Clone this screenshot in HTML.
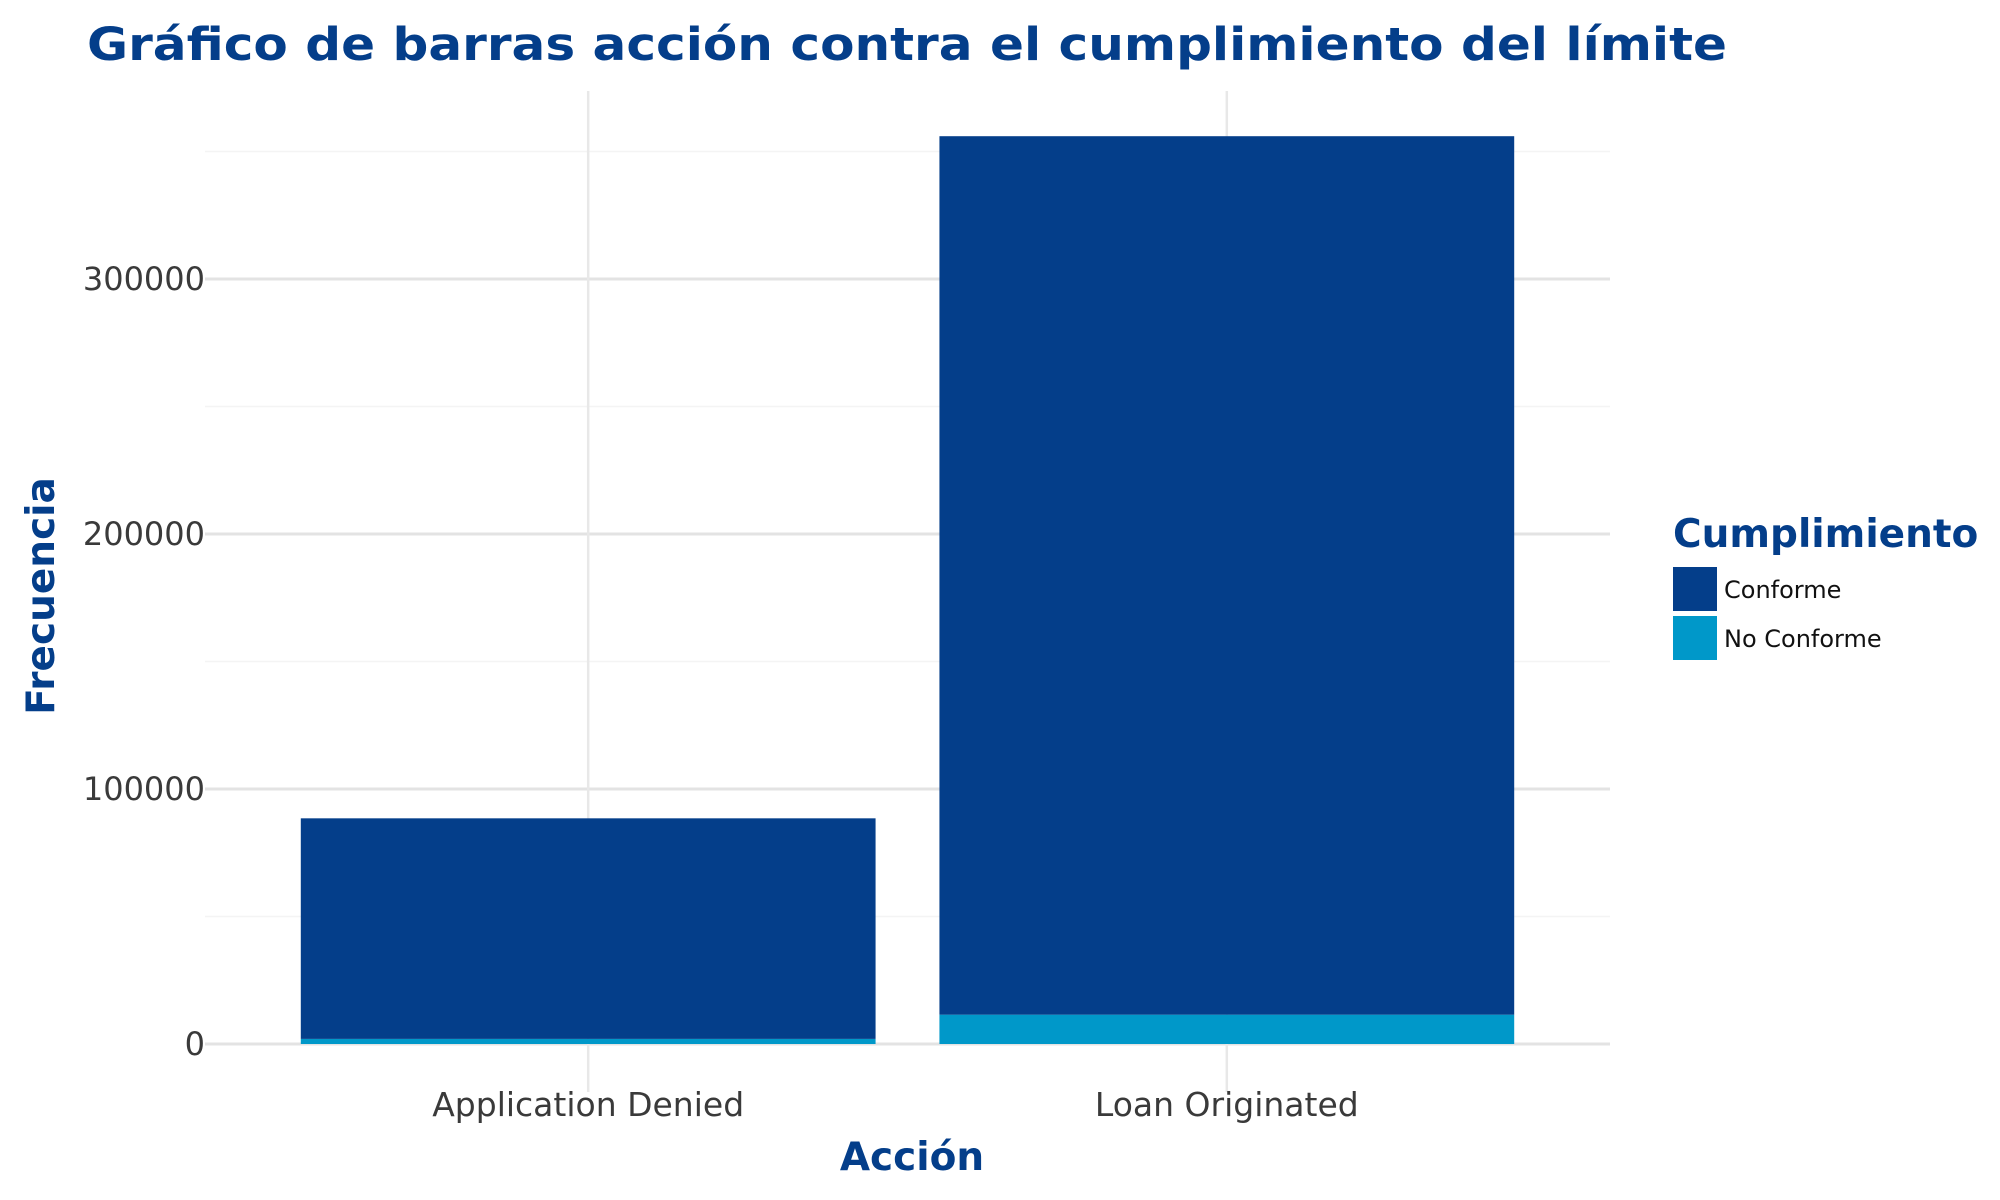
<!DOCTYPE html>
<html><head><meta charset="utf-8"><style>
html,body{margin:0;padding:0;background:#fff}
svg{display:block}
text{font-family:"DejaVu Sans","Liberation Sans",sans-serif}
</style></head><body>
<svg id="chart" width="2000" height="1200">
<text x="87" y="60" font-size="45" font-weight="bold" fill="#043E8A" textLength="1640" lengthAdjust="spacingAndGlyphs">Gráfico de barras acción contra el cumplimiento del límite</text>
<g id="grid"></g>
<g id="bars"></g>
<g id="axes"></g>
<text x="912" y="1170" font-size="39" font-weight="bold" fill="#043E8A" text-anchor="middle">Acción</text>
<text transform="translate(54,596) rotate(-90)" font-size="39" font-weight="bold" fill="#043E8A" text-anchor="middle">Frecuencia</text>
<g>
<text x="1673" y="547" font-size="39" font-weight="bold" fill="#043E8A">Cumplimiento</text>
<rect x="1673" y="567" width="44" height="44" fill="#043E8A"/>
<text x="1724" y="598" font-size="24" fill="#111">Conforme</text>
<rect x="1673" y="616" width="44" height="44" fill="#0098C9"/>
<text x="1724" y="647" font-size="24" fill="#111">No Conforme</text>
</g>
</svg>
<script>
const categories = ["Application Denied", "Loan Originated"];
const noConforme = [2000, 11500];
const conforme = [86500, 344500];
const yTicks = [0, 100000, 200000, 300000];
const yTickLabels = ["0", "100000", "200000", "300000"];
const yMinor = [50000, 150000, 250000, 350000];

const NS = "http://www.w3.org/2000/svg";
const X0 = 205, X1 = 1610, Y0 = 1044, PX_PER = 255 / 100000;
const unit = (X1 - X0) / (categories.length + 0.2);
function xc(i){ return X0 + unit * (i + 0.6); }
function y(v){ return Y0 - v * PX_PER; }
function mk(tag, attrs, parent){ const e = document.createElementNS(NS, tag); for (const k in attrs) e.setAttribute(k, attrs[k]); parent.appendChild(e); return e; }
const grid = document.getElementById('grid'), bars = document.getElementById('bars'), axes = document.getElementById('axes');

yMinor.forEach(v => {
  const l = mk('line', {x1: X0, x2: X1, y1: y(v), y2: y(v), stroke: '#f4f4f4', 'stroke-width': 1.5}, grid);
  
  
});
yTicks.forEach((v, i) => {
  const l = mk('line', {x1: X0, x2: X1, y1: y(v), y2: y(v), stroke: '#e3e3e3', 'stroke-width': 3}, grid);
  
  
  const t = mk('text', {x: 205, y: y(v) + 11, 'font-size': 32, fill: '#3a3a3a', 'text-anchor': 'end'}, axes);
  t.textContent = yTickLabels[i];
  
  
});
categories.forEach((c, i) => {
  const l = mk('line', {x1: xc(i), x2: xc(i), y1: 91, y2: 1092, stroke: '#e8e8e8', 'stroke-width': 2.5}, grid);
  
  
  const bw = unit * 0.9, bx = xc(i) - bw / 2;
  const r1 = mk('rect', {x: bx, y: y(noConforme[i]), width: bw, height: Y0 - y(noConforme[i]), fill: '#0098C9'}, bars);
  
  
  const tot = noConforme[i] + conforme[i];
  const r2 = mk('rect', {x: bx, y: y(tot), width: bw, height: y(noConforme[i]) - y(tot), fill: '#043E8A'}, bars);
  
  
  const t = mk('text', {x: xc(i), y: 1116, 'font-size': 33, fill: '#3a3a3a', 'text-anchor': 'middle'}, axes);
  t.textContent = c;
  
  
});
</script>
</body></html>
